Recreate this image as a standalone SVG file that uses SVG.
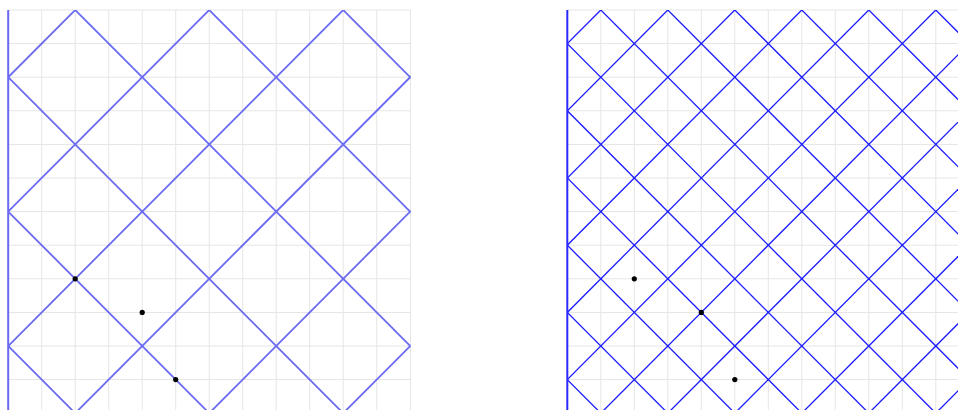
<svg xmlns="http://www.w3.org/2000/svg" width="958" height="410" viewBox="0 0 958 410">
<style>
.grid line{stroke:#e6e6e6;stroke-width:1}
.lp path{stroke:#6a6af2;stroke-width:1.8;fill:none}
.rp path{stroke:#1a1aff;stroke-width:1.3;fill:none}
.axl{stroke:#6a6af2;stroke-width:2}
.axr{stroke:#2a2aff;stroke-width:2}
.dot{fill:#000}
</style>
<defs>
<clipPath id="cl"><rect x="8.2" y="10" width="402.3" height="410"/></clipPath>
<clipPath id="cr"><rect x="567.3" y="10" width="391" height="410"/></clipPath>
</defs>
<rect width="958" height="410" fill="#fff"/>
<g transform="translate(0,10) scale(1,1.003) translate(0,-10)">
<g id="left-grid" class="grid">
<line x1="8.2" y1="10" x2="8.2" y2="420"/><line x1="41.7" y1="10" x2="41.7" y2="420"/><line x1="75.2" y1="10" x2="75.2" y2="420"/><line x1="108.7" y1="10" x2="108.7" y2="420"/><line x1="142.2" y1="10" x2="142.2" y2="420"/><line x1="175.7" y1="10" x2="175.7" y2="420"/><line x1="209.2" y1="10" x2="209.2" y2="420"/><line x1="242.7" y1="10" x2="242.7" y2="420"/><line x1="276.2" y1="10" x2="276.2" y2="420"/><line x1="309.7" y1="10" x2="309.7" y2="420"/><line x1="343.2" y1="10" x2="343.2" y2="420"/><line x1="376.7" y1="10" x2="376.7" y2="420"/><line x1="410.5" y1="10" x2="410.5" y2="420"/>
<line x1="8.2" y1="10" x2="410.5" y2="10"/><line x1="8.2" y1="43.5" x2="410.5" y2="43.5"/><line x1="8.2" y1="77" x2="410.5" y2="77"/><line x1="8.2" y1="110.5" x2="410.5" y2="110.5"/><line x1="8.2" y1="144" x2="410.5" y2="144"/><line x1="8.2" y1="177.5" x2="410.5" y2="177.5"/><line x1="8.2" y1="211" x2="410.5" y2="211"/><line x1="8.2" y1="244.5" x2="410.5" y2="244.5"/><line x1="8.2" y1="278" x2="410.5" y2="278"/><line x1="8.2" y1="311.5" x2="410.5" y2="311.5"/><line x1="8.2" y1="345" x2="410.5" y2="345"/><line x1="8.2" y1="378.5" x2="410.5" y2="378.5"/>
</g>
<g id="right-grid" class="grid">
<line x1="567.3" y1="10" x2="567.3" y2="420"/><line x1="600.8" y1="10" x2="600.8" y2="420"/><line x1="634.3" y1="10" x2="634.3" y2="420"/><line x1="667.8" y1="10" x2="667.8" y2="420"/><line x1="701.3" y1="10" x2="701.3" y2="420"/><line x1="734.8" y1="10" x2="734.8" y2="420"/><line x1="768.3" y1="10" x2="768.3" y2="420"/><line x1="801.8" y1="10" x2="801.8" y2="420"/><line x1="835.3" y1="10" x2="835.3" y2="420"/><line x1="868.8" y1="10" x2="868.8" y2="420"/><line x1="902.3" y1="10" x2="902.3" y2="420"/><line x1="935.8" y1="10" x2="935.8" y2="420"/>
<line x1="567.3" y1="10" x2="958" y2="10"/><line x1="567.3" y1="43.5" x2="958" y2="43.5"/><line x1="567.3" y1="77" x2="958" y2="77"/><line x1="567.3" y1="110.5" x2="958" y2="110.5"/><line x1="567.3" y1="144" x2="958" y2="144"/><line x1="567.3" y1="177.5" x2="958" y2="177.5"/><line x1="567.3" y1="211" x2="958" y2="211"/><line x1="567.3" y1="244.5" x2="958" y2="244.5"/><line x1="567.3" y1="278" x2="958" y2="278"/><line x1="567.3" y1="311.5" x2="958" y2="311.5"/><line x1="567.3" y1="345" x2="958" y2="345"/><line x1="567.3" y1="378.5" x2="958" y2="378.5"/>
</g>
<g id="connectors">
<g class="lp" clip-path="url(#cl)">
<path d="M95.2 -10 L-334.8 420"/><path d="M229.2 -10 L-200.8 420"/><path d="M363.2 -10 L-66.8 420"/><path d="M497.2 -10 L67.2 420"/><path d="M631.2 -10 L201.2 420"/><path d="M765.2 -10 L335.2 420"/>
<path d="M-346.8 -10 L83.2 420"/><path d="M-212.8 -10 L217.2 420"/><path d="M-78.8 -10 L351.2 420"/><path d="M55.2 -10 L485.2 420"/><path d="M189.2 -10 L619.2 420"/><path d="M323.2 -10 L753.2 420"/>
</g>
<g class="rp" clip-path="url(#cr)">
<path d="M620.8 -10 L190.8 420"/><path d="M687.8 -10 L257.8 420"/><path d="M754.8 -10 L324.8 420"/><path d="M821.8 -10 L391.8 420"/><path d="M888.8 -10 L458.8 420"/><path d="M955.8 -10 L525.8 420"/><path d="M1022.8 -10 L592.8 420"/><path d="M1089.8 -10 L659.8 420"/><path d="M1156.8 -10 L726.8 420"/><path d="M1223.8 -10 L793.8 420"/><path d="M1290.8 -10 L860.8 420"/><path d="M1357.8 -10 L927.8 420"/>
<path d="M178.8 -10 L608.8 420"/><path d="M245.8 -10 L675.8 420"/><path d="M312.8 -10 L742.8 420"/><path d="M379.8 -10 L809.8 420"/><path d="M446.8 -10 L876.8 420"/><path d="M513.8 -10 L943.8 420"/><path d="M580.8 -10 L1010.8 420"/><path d="M647.8 -10 L1077.8 420"/><path d="M714.8 -10 L1144.8 420"/><path d="M781.8 -10 L1211.8 420"/><path d="M848.8 -10 L1278.8 420"/><path d="M915.8 -10 L1345.8 420"/>
</g>
</g>
<g id="left-axis"><line class="axl" x1="8.2" y1="10" x2="8.2" y2="420"/></g>
<g id="right-axis"><line class="axr" x1="567.3" y1="10" x2="567.3" y2="420"/></g>
<g id="left-points">
<circle class="dot" cx="75.2" cy="278" r="2.6"/>
<circle class="dot" cx="142.2" cy="311.5" r="2.6"/>
<circle class="dot" cx="175.7" cy="378.5" r="2.6"/>
</g>
<g id="right-points">
<circle class="dot" cx="634.3" cy="278" r="2.6"/>
<circle class="dot" cx="701.3" cy="311.5" r="2.6"/>
<circle class="dot" cx="734.8" cy="378.5" r="2.6"/>
</g>
</g>
</svg>
